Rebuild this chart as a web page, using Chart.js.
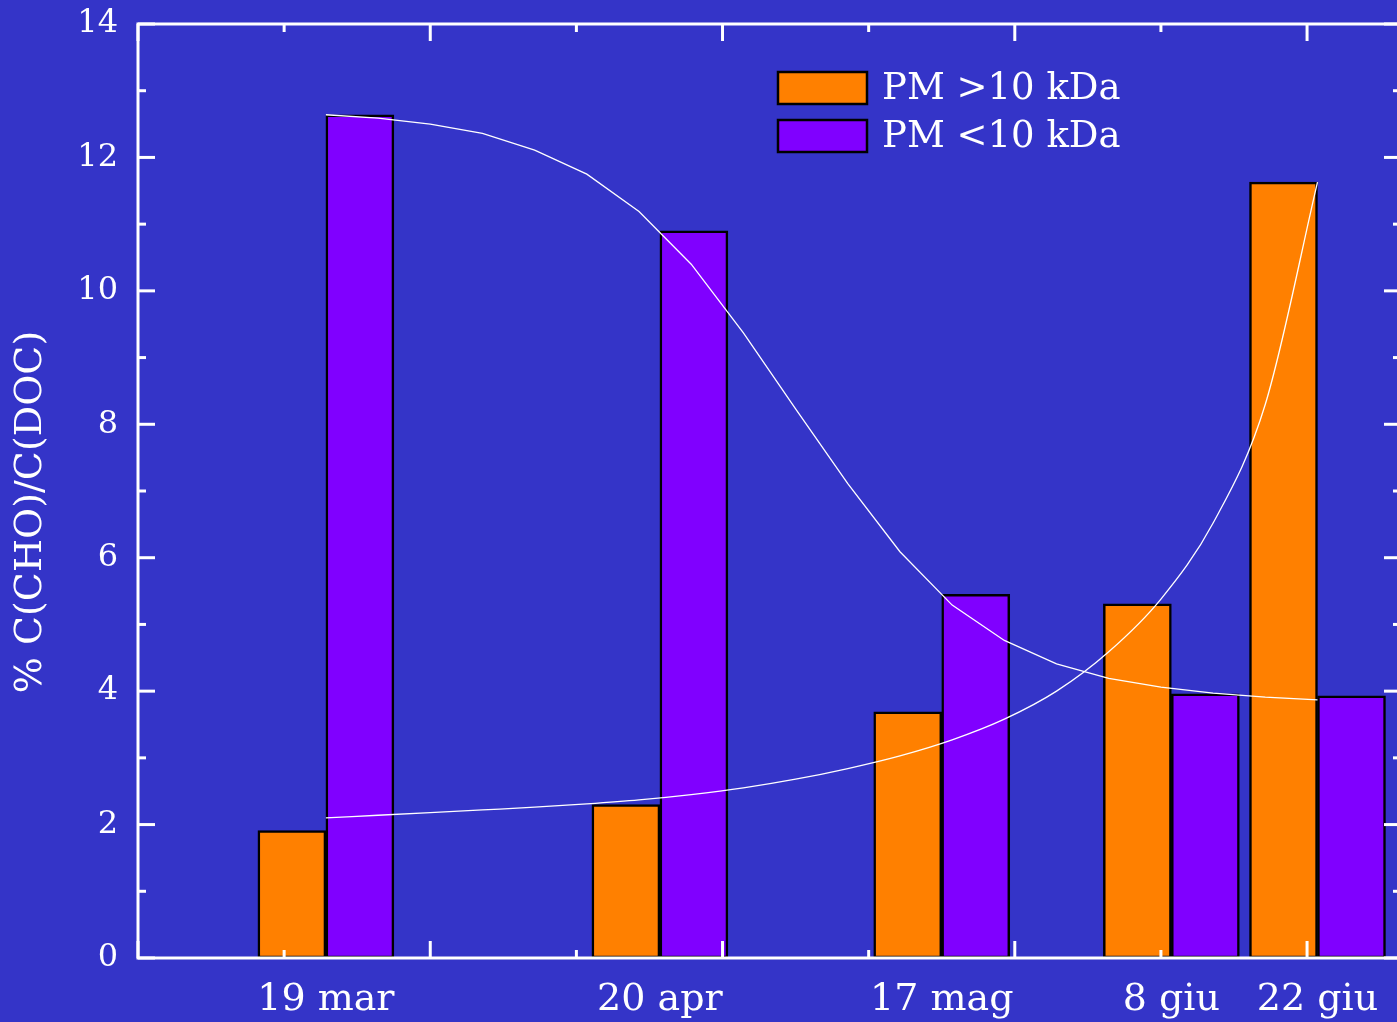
<!DOCTYPE html>
<html><head><meta charset="utf-8">
<script src="https://cdn.jsdelivr.net/npm/chart.js@4.4.1/dist/chart.umd.min.js"></script>
<style>html,body{margin:0;padding:0;overflow:hidden;background:#3434c8;} canvas{display:block;}</style>
</head><body>
<canvas id="c" width="1404" height="1022"></canvas>
<script>
// day-of-year for each sampling date
const dates = [78, 110, 137, 159, 173];
const dateLabels = ['19 mar', '20 apr', '17 mag', '8 giu', '22 giu'];
const seriesNames = ['PM >10 kDa', 'PM <10 kDa'];
const pmAbove10 = [1.91, 2.30, 3.69, 5.31, 11.63];
const pmBelow10 = [12.64, 10.90, 5.45, 3.96, 3.93];
// fitted curves (white lines)
const fitDays = [78, 83, 88, 93, 98, 103, 108, 113, 118, 123, 128, 133, 138, 143, 148, 153, 158, 163, 168, 173];
const fitBelow = [12.64, 12.59, 12.50, 12.36, 12.11, 11.75, 11.19, 10.40, 9.37, 8.23, 7.11, 6.09, 5.29, 4.76, 4.41, 4.19, 4.06, 3.97, 3.91, 3.87];
const fitAbove = [2.10, 2.14, 2.18, 2.22, 2.26, 2.31, 2.37, 2.45, 2.55, 2.68, 2.84, 3.03, 3.27, 3.58, 4.00, 4.59, 5.38, 6.52, 8.30, 11.63];
const xMin = 60, xMax = 181, xTickStep = 14;
const yMin = 0, yMax = 14, yLabelStep = 2, yMinorStep = 1;

const BG = '#3434c8', ORANGE = '#ff8000', PURPLE = '#8000ff';
const FONT = "'DejaVu Serif', 'Liberation Serif', serif";

const toXY = (xs, ys) => xs.map((x, i) => ({x: x, y: ys[i]}));

const framePlugin = {
  id: 'frame',
  beforeDraw(chart) {
    const ctx = chart.ctx;
    ctx.save(); ctx.fillStyle = BG; ctx.fillRect(0, 0, chart.width, chart.height); ctx.restore();
  },
  afterDatasetsDraw(chart) {
    const {ctx, chartArea: a, scales: {x, y}} = chart;
    ctx.save();
    ctx.strokeStyle = '#ffffff';
    ctx.lineWidth = 3;
    ctx.lineCap = 'butt';
    const seg = (x1, y1, x2, y2) => { ctx.beginPath(); ctx.moveTo(x1, y1); ctx.lineTo(x2, y2); ctx.stroke(); };
    ctx.strokeRect(a.left, a.top, a.right - a.left, a.bottom - a.top);
    for (let v = yMin; v <= yMax; v += yMinorStep) {
      const py = y.getPixelForValue(v);
      const L = (v % yLabelStep === 0) ? 17 : 8;
      seg(a.left, py, a.left + L, py);
      seg(a.right, py, a.right - L, py);
    }
    let i = 0;
    for (let d = xMin; d <= xMax; d += xTickStep, i++) {
      const px = x.getPixelForValue(d);
      const L = (i % 2 === 0) ? 17 : 8;
      seg(px, a.top, px, a.top + L);
      seg(px, a.bottom, px, a.bottom - L);
    }
    ctx.restore();
  },
  afterDraw(chart) {
    const ctx = chart.ctx;
    ctx.save();
    ctx.fillStyle = '#ffffff';
    ctx.font = "38px " + FONT;
    ctx.textAlign = 'center';
    ctx.textBaseline = 'middle';
    ctx.translate(31, 512);
    ctx.rotate(-Math.PI / 2);
    ctx.fillText('% C(CHO)/C(DOC)', 0, 0);
    ctx.restore();
    ctx.save();
    const bars = chart.data.datasets.filter(d => d.type !== 'line');
    bars.forEach((ds, k) => {
      const bx = 778, by = 72 + k * 48, bw = 89, bh = 32;
      ctx.fillStyle = ds.backgroundColor;
      ctx.fillRect(bx, by, bw, bh);
      ctx.strokeStyle = '#000'; ctx.lineWidth = 2.5;
      ctx.strokeRect(bx, by, bw, bh);
      ctx.fillStyle = '#ffffff';
      ctx.font = "37px " + FONT;
      ctx.textAlign = 'left'; ctx.textBaseline = 'middle';
      ctx.fillText(ds.label, 882, by + bh / 2 + 1);
    });
    ctx.restore();
  }
};

new Chart(document.getElementById('c'), {
  type: 'bar',
  data: {
    datasets: [
      {type: 'line', label: 'fit <10', data: toXY(fitDays, fitBelow), borderColor: '#ffffff', borderWidth: 1.3, pointRadius: 0, tension: 0, order: 0},
      {type: 'line', label: 'fit >10', data: toXY(fitDays, fitAbove), borderColor: '#ffffff', borderWidth: 1.3, pointRadius: 0, cubicInterpolationMode: 'monotone', order: 0},
      {label: seriesNames[0], data: toXY(dates, pmAbove10), backgroundColor: ORANGE, borderColor: '#000', borderWidth: 2.5, borderSkipped: false, barThickness: 68, order: 1},
      {label: seriesNames[1], data: toXY(dates, pmBelow10), backgroundColor: PURPLE, borderColor: '#000', borderWidth: 2.5, borderSkipped: false, barThickness: 68, order: 1}
    ]
  },
  options: {
    responsive: false,
    animation: false,
    devicePixelRatio: 1,
    layout: {padding: {left: 0, top: 24, right: 3, bottom: 0}},
    plugins: {legend: {display: false}, tooltip: {enabled: false}},
    scales: {
      x: {
        type: 'linear', min: xMin, max: xMax, offset: false,
        grid: {display: false, drawTicks: false}, border: {display: false},
        afterBuildTicks: (s) => { s.ticks = dates.map(v => ({value: v})); },
        afterFit: (s) => { s.height = 64; s.paddingLeft = 0; s.paddingRight = 0; },
        ticks: {autoSkip: false, maxRotation: 0, color: '#ffffff', padding: 19,
          font: {family: FONT, size: 38},
          callback: (v, i) => dateLabels[i]}
      },
      y: {
        min: yMin, max: yMax,
        grid: {display: false, drawTicks: false}, border: {display: false},
        afterFit: (s) => { s.width = 138; s.paddingTop = 0; s.paddingBottom = 0; },
        ticks: {stepSize: yLabelStep, color: '#ffffff', padding: 20, font: {family: FONT, size: 32}}
      }
    }
  },
  plugins: [framePlugin]
});
</script>
</body></html>
